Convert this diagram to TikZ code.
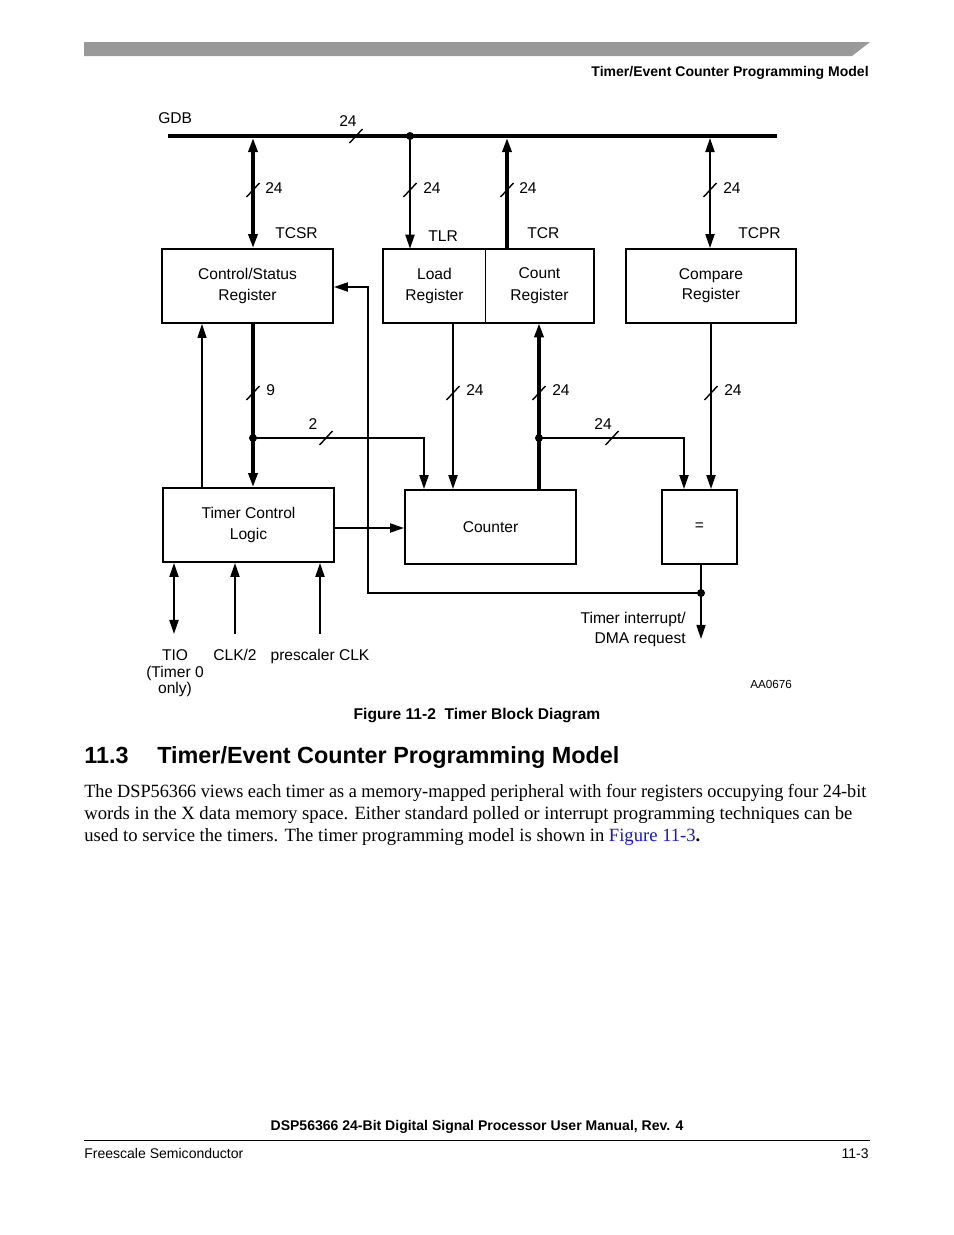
\documentclass[tikz,border=0pt]{standalone}
\usepackage{fontspec}
\setmainfont{Liberation Serif}
\setsansfont{Liberation Sans}
\usetikzlibrary{arrows.meta}
\definecolor{linkblue}{RGB}{20,20,230}
\definecolor{bargray}{RGB}{153,153,153}
\newcommand\bitslash[1]{\draw[slashl,shift={(#1)}] (-6.5,7) -- (6.5,-7);}
\begin{document}
\begin{tikzpicture}[x=0.6415pt,y=-0.6415pt,
  >={Triangle[length=9pt,width=5.8pt]},
  dgfont/.style={font=\sffamily\fontsize{10pt}{14pt}\selectfont},
  lbl/.style={dgfont, inner sep=0pt, anchor=base west},
  lblc/.style={dgfont, inner sep=0pt, anchor=base},
  lble/.style={dgfont, inner sep=0pt, anchor=base east},
  blk/.style={draw, line width=1.2pt, dgfont, align=center, inner sep=0pt},
  cell/.style={dgfont, align=center, inner sep=0pt},
  thickl/.style={line width=2.1pt},
  medl/.style={line width=1.3pt},
  thinl/.style={line width=0.7pt},
  slashl/.style={line width=0.9pt},
  pagetext/.style={inner sep=0pt, font=\sffamily\fontsize{9pt}{11pt}\selectfont}
]
\useasboundingbox (0,0) rectangle (954,1235);

% ---- page header ----
\fill[bargray] (84,42) -- (870,42) -- (852,56) -- (84,56) -- cycle;
\node[pagetext, anchor=base east, font=\sffamily\bfseries\fontsize{9pt}{11pt}\selectfont] (hdr) at (869,76) {Timer/Event Counter Programming Model};

% ---- boxes ----
\node[blk, minimum width={171*0.6415pt}, minimum height={74*0.6415pt}] (csr) at (247.5,286) {Control/Status\\Register};
\node[cell, minimum width={102*0.6415pt}, minimum height={74*0.6415pt}] (lr) at (434.5,286) {Load\\Register};
\node[cell, minimum width={108*0.6415pt}, minimum height={74*0.6415pt}] (cr) at (539.5,286) {Count\\Register};
\draw[line width=1.2pt] (lr.north west) rectangle (cr.south east);
\draw[line width=0.8pt] (lr.north east) -- (lr.south east);
\node[blk, minimum width={170*0.6415pt}, minimum height={74*0.6415pt}, font=\sffamily\fontsize{10pt}{13pt}\selectfont] (cmp) at (711,286) {Compare\\Register};
\node[blk, minimum width={171*0.6415pt}, minimum height={74*0.6415pt}] (tcl) at (248.5,525) {Timer Control\\Logic};
\node[blk, minimum width={171*0.6415pt}, minimum height={74*0.6415pt}] (cnt) at (490.5,527) {Counter};
\node[blk, minimum width={75*0.6415pt}, minimum height={74*0.6415pt}] (eq) at (699.5,527) {=};

% ---- coordinates ----
\coordinate (busL) at (168,136);
\coordinate (busR) at (777,136);
\coordinate (jt) at (410,136);
\coordinate (j9) at (253,438);
\coordinate (jc) at (539,438);
\coordinate (jint) at (701,593);
\coordinate (irq) at (701,639);
\coordinate (tio) at (174,634);
\coordinate (clk) at (235,634);
\coordinate (pre) at (320,634);
\coordinate (loopc) at (368,287);

% ---- bus ----
\draw[thickl] (busL) -- (busR);
\fill (jt) circle[radius=4];
\node[lbl] (gdb) at (158,123) {GDB};
\node[lblc] (b24) at (348,126) {24};
\bitslash{356,136}

% ---- upper connectors ----
\draw[thickl,<->] (253,138 |- 0,138) -- (253,0 |- csr.north);
\draw[medl,->] (jt) -- (410,0 |- lr.north);
\draw[thickl,->] (507,0 |- cr.north) -- (507,138);
\draw[medl,<->] (710,138) -- (710,0 |- cmp.north);
\bitslash{253,190}
\bitslash{410,190}
\bitslash{507,190}
\bitslash{710,190}
\node[lbl] (l1) at (265,193) {24};
\node[lbl] (l2) at (423,193) {24};
\node[lbl] (l3) at (519,193) {24};
\node[lbl] (l4) at (723,193) {24};
\node[lbl] (ntcsr) at (275,238) {TCSR};
\node[lbl] (ntlr) at (428,241) {TLR};
\node[lbl] (ntcr) at (527,238) {TCR};
\node[lbl] (ntcpr) at (738,238) {TCPR};

% ---- lower connectors ----
\draw[thickl,->] (253,0 |- csr.south) -- (253,0 |- tcl.north);
\fill (j9) circle[radius=4];
\draw[medl,->] (j9) -| (424,0 |- cnt.north);
\draw[thinl,->] (202,0 |- tcl.north) -- (202,0 |- csr.south);
\draw[medl,->] (jint) -| (loopc) -- (csr.east |- loopc);
\draw[medl,->] (453,0 |- lr.south) -- (453,0 |- cnt.north);
\draw[thickl,->] (539,0 |- cnt.north) -- (539,0 |- cr.south);
\fill (jc) circle[radius=4];
\draw[medl,->] (jc) -| (684,0 |- eq.north);
\draw[medl,->] (711,0 |- cmp.south) -- (711,0 |- eq.north);
\draw[medl,->] (tcl.east |- 0,528) -- (cnt.west |- 0,528);
\draw[thinl] (701,0 |- eq.south) -- (jint);
\fill (jint) circle[radius=4];
\draw[line width=0.9pt,->] (jint) -- (irq);
\draw[medl,<->] (tio) -- (tio |- tcl.south);
\draw[medl,->] (clk) -- (clk |- tcl.south);
\draw[medl,->] (pre) -- (pre |- tcl.south);

\bitslash{253,393}
\bitslash{453,393}
\bitslash{539,393}
\bitslash{711,393}
\bitslash{326,438}
\bitslash{612,438}
\node[lbl] (l9) at (266,395) {9};
\node[lbl] (l5) at (466,395) {24};
\node[lbl] (l6) at (552,395) {24};
\node[lbl] (l7) at (724,395) {24};
\node[lblc] (l2b) at (313,429) {2};
\node[lblc] (l8) at (603,429) {24};

\node[lblc] (ntio) at (175,660) {TIO};
\node[lblc] (ntio2) at (175,677) {(Timer 0};
\node[lblc] (ntio3) at (175,693) {only)};
\node[lblc] (nclk) at (235,660) {CLK/2};
\node[lblc] (npre) at (320,660) {prescaler CLK};
\node[lble] (nint1) at (686,623) {Timer interrupt/};
\node[lble] (nint2) at (686,643) {DMA request};
\node[inner sep=0pt, anchor=base west, font=\sffamily\fontsize{7.5pt}{9pt}\selectfont] (aa) at (750,688) {AA0676};

% ---- caption and text ----
\node[inner sep=0pt, anchor=base, font=\sffamily\bfseries\fontsize{10pt}{12pt}\selectfont] (cap) at (477,719) {Figure 11-2\ \ Timer Block Diagram};
\node[inner sep=0pt, anchor=base west, font=\sffamily\bfseries\fontsize{15pt}{18pt}\selectfont] (secn) at (84,763) {11.3};
\node[inner sep=0pt, anchor=base west, font=\sffamily\bfseries\fontsize{15pt}{18pt}\selectfont] (sect) at (157,763) {Timer/Event Counter Programming Model};
\node[inner sep=0pt, anchor=base west] (p1) at (84,797) {\resizebox{501.7pt}{\height}{\fontsize{12pt}{14pt}\selectfont The DSP56366 views each timer as a memory-mapped peripheral with four registers occupying four 24-bit}};
\node[inner sep=0pt, anchor=base west] (p2) at (84,819) {\resizebox{492.7pt}{\height}{\fontsize{12pt}{14pt}\selectfont words in the X data memory space. Either standard polled or interrupt programming techniques can be}};
\node[inner sep=0pt, anchor=base west] (p3) at (84,841) {\resizebox{395.2pt}{\height}{\fontsize{12pt}{14pt}\selectfont used to service the timers. The timer programming model is shown in {\color{linkblue}Figure 11-3}\textbf{.}}};

% ---- footer ----
\node[pagetext, anchor=base, font=\sffamily\bfseries\fontsize{9pt}{11pt}\selectfont] (ftitle) at (477,1130) {DSP56366 24-Bit Digital Signal Processor User Manual, Rev. 4};
\draw[line width=0.65pt] (84,1140) -- (870,1140);
\node[pagetext, anchor=base west] (fl) at (84,1158) {Freescale Semiconductor};
\node[pagetext, anchor=base east] (fr) at (869,1158) {11-3};
\end{tikzpicture}
\end{document}
